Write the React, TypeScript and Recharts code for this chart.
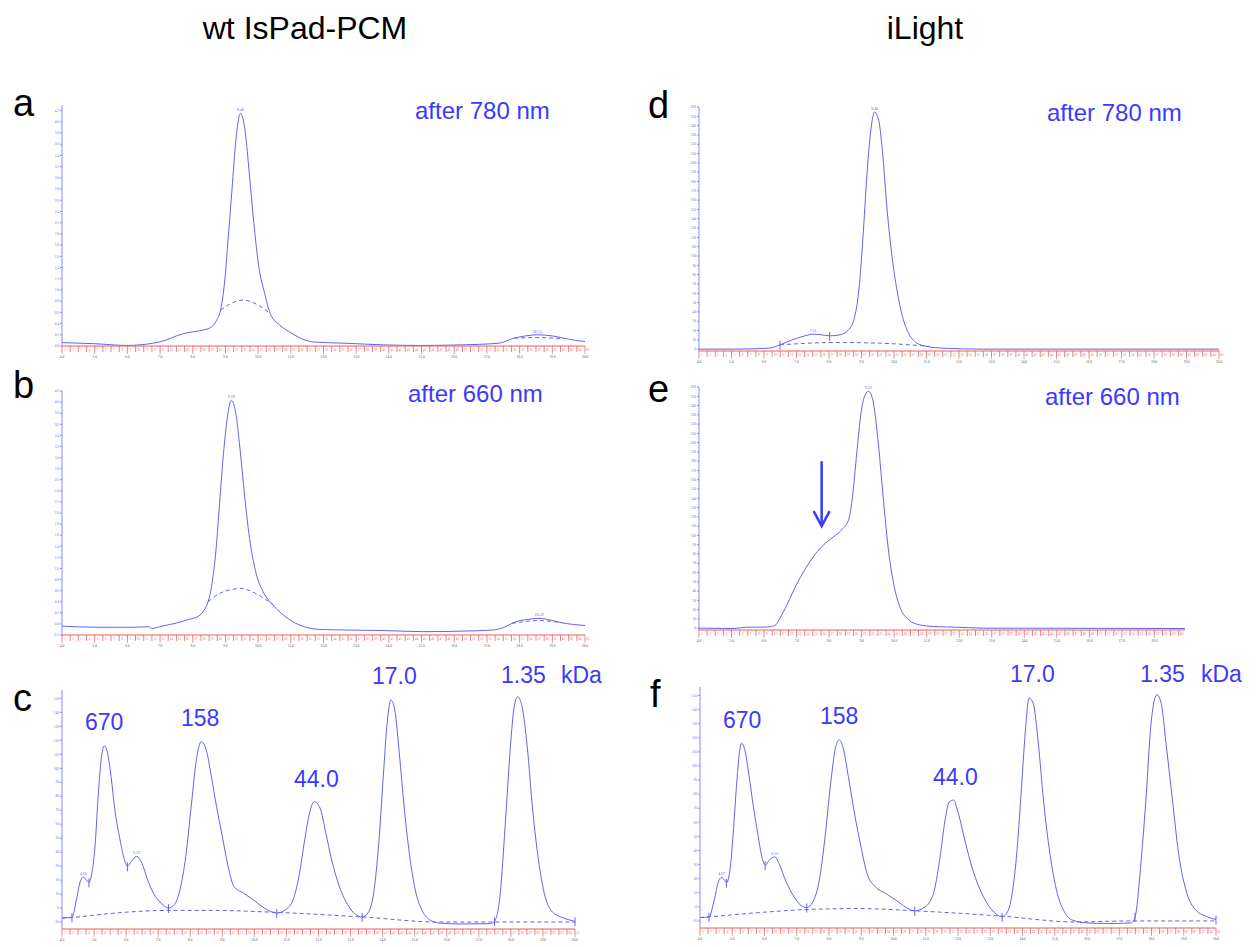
import React from 'react'
import { LineChart, Line, XAxis, YAxis, ReferenceDot, ReferenceLine } from 'recharts'

const FONT = '"Liberation Sans", Arial, sans-serif'
const TRACE = '#6262f0'
const LABEL_BLUE = '#3a3aff'
const FRAC_RED = '#f05a5a'

// elution volume (mL) ticks shared by all panels
const volTicks = [4, 5, 6, 7, 8, 9, 10, 11, 12, 13, 14, 15, 16, 17, 18, 19, 20]

// a: wt IsPad-PCM after 780 nm
const aVol = [4.00, 5.03, 5.97, 6.79, 7.15, 7.50, 7.85, 8.20, 8.55, 8.73, 8.85, 8.97, 9.08, 9.20, 9.32, 9.46, 9.61, 9.73, 9.87, 10.02, 10.20, 10.37, 10.67, 11.02, 11.37, 11.72, 12.66, 13.84, 15.01, 16.19, 17.36, 17.83, 18.18, 18.53, 19.00, 19.35, 19.71, 20.00]
const aAbs = [0.06, 0.04, 0.01, 0.05, 0.10, 0.18, 0.24, 0.27, 0.33, 0.46, 0.64, 1.12, 1.89, 2.79, 3.68, 4.15, 3.80, 3.08, 2.19, 1.42, 0.94, 0.58, 0.37, 0.23, 0.12, 0.07, 0.05, 0.02, 0.01, 0.02, 0.05, 0.14, 0.18, 0.20, 0.18, 0.14, 0.10, 0.08]
const aFitVol = [8.85, 9.14, 9.55, 9.90, 10.37]
const aFitAbs = [0.64, 0.75, 0.82, 0.76, 0.58]
const aFit2Vol = [17.83, 18.53, 19.35]
const aFit2Abs = [0.14, 0.15, 0.13]
const aTicks = [0, 0.2, 0.4, 0.6, 0.8, 1.0, 1.2, 1.4, 1.6, 1.8, 2.0, 2.2, 2.4, 2.6, 2.8, 3.0, 3.2, 3.4, 3.6, 3.8, 4.0, 4.2]
const aPeaks = [9.46, 18.53]

// b: wt IsPad-PCM after 660 nm
const bVol = [4.00, 5.06, 6.24, 6.65, 6.76, 7.06, 7.53, 7.88, 8.18, 8.35, 8.47, 8.59, 8.71, 8.82, 8.94, 9.06, 9.18, 9.32, 9.44, 9.59, 9.76, 9.94, 10.18, 10.41, 10.71, 11.06, 11.41, 11.88, 12.71, 13.88, 15.06, 16.24, 17.18, 17.53, 17.88, 18.24, 18.59, 18.94, 19.29, 19.65, 20.00]
const bAbs = [-0.04, -0.06, -0.06, -0.05, -0.08, -0.04, 0.02, 0.08, 0.14, 0.25, 0.40, 0.73, 1.33, 2.17, 3.07, 3.73, 4.03, 3.79, 3.19, 2.29, 1.45, 0.91, 0.55, 0.37, 0.19, 0.04, -0.05, -0.10, -0.11, -0.12, -0.14, -0.13, -0.11, -0.06, 0.04, 0.08, 0.10, 0.07, 0.02, -0.01, -0.03]
const bFitVol = [8.47, 8.82, 9.18, 9.47, 9.82, 10.18, 10.47]
const bFitAbs = [0.40, 0.55, 0.62, 0.64, 0.58, 0.46, 0.34]
const bFit2Vol = [17.77, 18.59, 19.29]
const bFit2Abs = [0.01, 0.06, 0.02]
const bTicks = [-0.2, 0, 0.2, 0.4, 0.6, 0.8, 1.0, 1.2, 1.4, 1.6, 1.8, 2.0, 2.2, 2.4, 2.6, 2.8, 3.0, 3.2, 3.4, 3.6, 3.8, 4.0, 4.2]
const bPeaks = [9.18, 18.59]

// c: wt IsPad-PCM standards
const cVol = [4.00, 4.31, 4.45, 4.57, 4.66, 4.75, 4.84, 4.93, 5.03, 5.12, 5.22, 5.32, 5.41, 5.53, 5.65, 5.79, 5.95, 6.04, 6.16, 6.33, 6.49, 6.67, 6.85, 7.09, 7.32, 7.50, 7.68, 7.86, 8.04, 8.19, 8.34, 8.50, 8.64, 8.82, 9.00, 9.18, 9.36, 9.66, 9.96, 10.31, 10.70, 10.97, 11.21, 11.39, 11.57, 11.72, 11.87, 12.05, 12.23, 12.41, 12.65, 12.94, 13.36, 13.54, 13.72, 13.88, 14.02, 14.14, 14.26, 14.38, 14.52, 14.68, 14.86, 15.04, 15.22, 15.46, 15.75, 16.41, 17.37, 17.49, 17.67, 17.82, 17.97, 18.09, 18.21, 18.35, 18.51, 18.68, 18.86, 19.04, 19.28, 19.64, 20.00]
const cAbs = [-7.1, -6.7, 6.0, 19.0, 22.1, 20.2, 18.3, 25.0, 44.0, 77.4, 106.0, 116.0, 111.9, 94.0, 70.2, 51.2, 34.5, 29.8, 33.3, 36.9, 32.1, 20.2, 10.7, 3.6, 0, 2.4, 13.1, 36.9, 75.0, 106.0, 119.0, 113.1, 96.4, 72.6, 51.2, 29.8, 15.5, 10.7, 6.0, 0, -3.6, -1.2, 6.0, 22.6, 48.8, 67.9, 76.2, 71.4, 53.6, 34.5, 15.5, 1.2, -6.4, -3.6, 10.7, 46.4, 94.0, 132.1, 148.8, 141.7, 110.7, 70.2, 34.5, 10.7, -1.2, -8.3, -10.7, -11.4, -11.2, -9.5, 10.7, 58.3, 110.7, 141.7, 151.2, 144.0, 115.5, 70.2, 34.5, 10.7, -2.4, -7.1, -9.5]
const cBaseVol = [4.00, 4.31, 5.65, 7.32, 8.64, 10.70, 13.36, 15.75, 17.49, 20.00]
const cBaseAbs = [-7.1, -6.7, -3.6, -1.7, -1.7, -3.1, -6.4, -10.0, -10.0, -10.0]
const cCuts = [4.31, 4.84, 6.04, 7.32, 10.70, 13.36, 17.49, 20.00]
const cPeaks = [4.66, 6.33]

// d: iLight after 780 nm
const dVol = [4.00, 5.09, 6.17, 6.49, 6.87, 7.26, 7.51, 7.77, 8.02, 8.34, 8.60, 8.79, 8.92, 9.04, 9.17, 9.30, 9.40, 9.53, 9.66, 9.78, 9.94, 10.09, 10.26, 10.45, 10.70, 11.02, 11.47, 12.75, 14.02, 20.00]
const dAbs = [0, 0, 1.1, 4.6, 10.0, 14.3, 16.1, 15.4, 14.3, 15.4, 20.7, 35.0, 63.6, 117.1, 188.6, 238.6, 254.6, 245.7, 206.4, 152.9, 99.3, 63.6, 35.0, 17.1, 6.4, 2.9, 1.1, 0, 0, 0]
const dFitVol = [6.49, 8.15, 9.55, 11.09]
const dFitAbs = [4.6, 7.1, 6.4, 2.9]
const dCuts = [6.49, 8.02]
const dPeaks = [7.51, 9.40]

// e: iLight after 660 nm
const eVol = [4.00, 5.09, 5.47, 5.98, 6.23, 6.36, 6.49, 6.68, 6.87, 7.13, 7.38, 7.64, 7.89, 8.15, 8.41, 8.60, 8.72, 8.85, 8.98, 9.11, 9.21, 9.34, 9.49, 9.66, 9.81, 10.00, 10.19, 10.45, 10.77, 11.21, 11.85, 12.75, 18.94]
const eAbs = [0, -0.4, 1.1, 1.1, 1.8, 3.6, 10.8, 23.4, 37.8, 55.8, 70.1, 82.7, 91.7, 98.9, 106.8, 116.9, 142.1, 188.8, 232.0, 251.8, 255.4, 246.4, 206.8, 142.1, 88.1, 45.0, 21.6, 9.0, 3.6, 1.8, 1.1, 0, -0.4]
const ePeaks = [9.21]
const eArrowVol = 7.77
const eArrowAbs = [180, 110]

const iLightTicks = [0, 10, 20, 30, 40, 50, 60, 70, 80, 90, 100, 110, 120, 130, 140, 150, 160, 170, 180, 190, 200, 210, 220, 230, 240, 250, 260]

// f: iLight standards
const fVol = [4.00, 4.28, 4.44, 4.57, 4.67, 4.76, 4.82, 4.93, 5.03, 5.13, 5.22, 5.29, 5.39, 5.51, 5.64, 5.79, 5.93, 6.02, 6.15, 6.32, 6.47, 6.67, 6.92, 7.12, 7.31, 7.50, 7.70, 7.89, 8.04, 8.21, 8.32, 8.44, 8.60, 8.79, 8.99, 9.18, 9.44, 9.76, 10.08, 10.40, 10.66, 10.98, 11.24, 11.43, 11.60, 11.73, 11.86, 12.01, 12.21, 12.46, 12.79, 13.11, 13.37, 13.56, 13.71, 13.84, 13.97, 14.10, 14.20, 14.33, 14.49, 14.65, 14.85, 15.08, 15.30, 15.56, 16.01, 16.65, 17.36, 17.49, 17.68, 17.84, 17.96, 18.09, 18.17, 18.30, 18.45, 18.65, 18.84, 19.10, 19.36, 19.74, 20.00]
const fAbs = [-7.6, -7.1, 4.7, 17.8, 20.9, 19.0, 17.1, 26.1, 52.1, 85.3, 109.0, 116.1, 111.4, 94.8, 73.5, 52.1, 34.4, 29.6, 33.2, 35.5, 29.6, 17.8, 7.1, 1.2, -0.5, 3.6, 19.0, 52.1, 85.3, 113.7, 118.5, 112.6, 92.4, 66.4, 42.7, 23.7, 14.2, 9.5, 4.7, -0.5, -2.8, 0, 9.5, 33.2, 61.6, 74.6, 75.8, 66.4, 47.4, 26.1, 7.1, -3.6, -7.1, -2.4, 14.2, 42.7, 85.3, 128.0, 148.1, 144.5, 116.1, 75.8, 37.9, 9.5, -3.6, -9.5, -11.4, -11.8, -11.4, -7.1, 33.2, 80.6, 123.2, 146.9, 150.5, 144.5, 116.1, 75.8, 37.9, 9.5, -1.9, -7.1, -9.0]
const fBaseVol = [4.00, 4.28, 5.70, 7.31, 8.92, 10.66, 13.37, 15.62, 17.36, 20.00]
const fBaseAbs = [-7.6, -7.1, -4.3, -1.9, -1.2, -2.8, -6.6, -10.7, -10.0, -10.0]
const fCuts = [4.28, 4.82, 6.02, 7.31, 10.66, 13.37, 17.49, 20.00]
const fPeaks = [4.67, 6.32]

const stdTicks = [-10, 0, 10, 20, 30, 40, 50, 60, 70, 80, 90, 100, 110, 120, 130, 140, 150]

// standard masses (kDa)
const mwLabels = ['670', '158', '44.0', '17.0', '1.35']

type Series = { vol: number[]; abs: number[] }

const toRows = (vol: number[], abs: number[]) => vol.map((v, i) => ({ vol: v, abs: abs[i] }))

const YW = 13
const MT = 3
const MR = 7
const XH = 16

// fraction band (red) right under the plot, elution volume labels below it
const FracTick = (props: any) => {
  const { x, y, payload } = props
  const v: number = payload.value
  const n = Math.round((v - 4) / 0.25) + 1
  const labelled = volTicks.some((t) => Math.abs(t - v) < 1e-6)
  return (
    <g>
      <line x1={x} x2={x} y1={y} y2={y + 6} stroke={FRAC_RED} strokeWidth={0.8} />
      <text x={x + 3} y={y + 4.5} fontSize={3} fill={FRAC_RED} textAnchor="middle">{n}</text>
      {labelled && (
        <g>
          <line x1={x} x2={x} y1={y + 6} y2={y + 8} stroke="#888" strokeWidth={0.6} />
          <text x={x} y={y + 12} fontSize={3.5} fill="#555" textAnchor="middle">{v.toFixed(1)}</text>
        </g>
      )}
    </g>
  )
}

interface PanelProps {
  left: number
  top: number
  plotW: number
  plotH: number
  xMax: number
  yDomain: [number, number]
  yTicks: number[]
  digits: number
  trace: Series
  fits: Series[]
  peaks: number[]
  cuts?: number[]
  children?: React.ReactNode
}

const Panel = ({ left, top, plotW, plotH, xMax, yDomain, yTicks, digits, trace, fits, peaks, cuts = [], children }: PanelProps) => {
  const fracTicks = Array.from({ length: Math.floor((xMax - 4) / 0.25) + 1 }, (_, i) => 4 + i * 0.25)
  const absAt = (v: number) => trace.abs[trace.vol.indexOf(v)]
  return (
    <div style={{ position: 'absolute', left: left - YW, top: top - MT }}>
      <LineChart
        width={plotW + YW + MR}
        height={plotH + MT + XH}
        margin={{ top: MT, right: MR, bottom: 0, left: 0 }}
      >
        <XAxis
          type="number"
          dataKey="vol"
          domain={[4, xMax]}
          ticks={fracTicks}
          allowDataOverflow
          height={XH}
          stroke={FRAC_RED}
          tickLine={false}
          tickSize={0}
          tickMargin={0}
          interval={0}
          tick={<FracTick />}
        />
        <YAxis
          type="number"
          domain={yDomain}
          ticks={yTicks}
          allowDataOverflow
          width={YW}
          stroke="#8a8af2"
          tickSize={2}
          tickMargin={1}
          interval={0}
          tick={{ fontSize: 3.5, fill: '#6b6bf0' }}
          tickFormatter={(v: number) => v.toFixed(digits)}
        />
        {fits.map((s, i) => (
          <Line
            key={i}
            data={toRows(s.vol, s.abs)}
            dataKey="abs"
            type="monotone"
            stroke={TRACE}
            strokeWidth={1}
            strokeDasharray="4 3"
            dot={false}
            isAnimationActive={false}
          />
        ))}
        <Line
          data={toRows(trace.vol, trace.abs)}
          dataKey="abs"
          type="monotone"
          stroke={TRACE}
          strokeWidth={1}
          dot={false}
          isAnimationActive={false}
        />
        {cuts.map((c) => (
          <ReferenceDot
            key={'c' + c}
            x={c}
            y={absAt(c)}
            r={4}
            shape={(p: any) => <line x1={p.cx} x2={p.cx} y1={p.cy - 4} y2={p.cy + 5} stroke={TRACE} strokeWidth={1} />}
          />
        ))}
        {peaks.map((p) => (
          <ReferenceDot
            key={'p' + p}
            x={p}
            y={absAt(p)}
            r={0}
            fill="none"
            stroke="none"
            label={{ value: p.toFixed(2), position: 'top', fontSize: 4, fill: TRACE, offset: 2 }}
          />
        ))}
        {children}
      </LineChart>
    </div>
  )
}

const T = ({ x, y, size, fill = '#000', children, anchor = 'start' }: { x: number; y: number; size: number; fill?: string; children: React.ReactNode; anchor?: 'start' | 'middle' }) => (
  <text x={x} y={y} fontSize={size} fill={fill} fontFamily={FONT} textAnchor={anchor}>
    {children}
  </text>
)

const App = () => {
  const cLabelX = [85, 181, 294, 372, 501]
  const cLabelY = [730, 726, 787, 684, 683]
  const fLabelX = [723, 820, 933, 1010, 1140]
  const fLabelY = [728, 724, 785, 682, 682]
  return (
    <div style={{ position: 'absolute', left: 0, top: 0, width: 1258, height: 947, background: '#fff', overflow: 'hidden' }}>
      <Panel left={62} top={105} plotW={523} plotH={241} xMax={20} yDomain={[0, 4.3]} yTicks={aTicks} digits={1}
        trace={{ vol: aVol, abs: aAbs }} fits={[{ vol: aFitVol, abs: aFitAbs }, { vol: aFit2Vol, abs: aFit2Abs }]} peaks={aPeaks} />
      <Panel left={62} top={391} plotW={523} plotH={244} xMax={20} yDomain={[-0.2, 4.2]} yTicks={bTicks} digits={1}
        trace={{ vol: bVol, abs: bAbs }} fits={[{ vol: bFitVol, abs: bFitAbs }, { vol: bFit2Vol, abs: bFit2Abs }]} peaks={bPeaks} />
      <Panel left={62} top={690} plotW={513} plotH={239} xMax={20} yDomain={[-15, 156]} yTicks={stdTicks} digits={0}
        trace={{ vol: cVol, abs: cAbs }} fits={[{ vol: cBaseVol, abs: cBaseAbs }]} peaks={cPeaks} cuts={cCuts} />
      <Panel left={699} top={107} plotW={520} plotH={244} xMax={20} yDomain={[-2, 260]} yTicks={iLightTicks} digits={0}
        trace={{ vol: dVol, abs: dAbs }} fits={[{ vol: dFitVol, abs: dFitAbs }]} peaks={dPeaks} cuts={dCuts} />
      <Panel left={699} top={387} plotW={486} plotH={243} xMax={18.94} yDomain={[-2, 260]} yTicks={iLightTicks} digits={0}
        trace={{ vol: eVol, abs: eAbs }} fits={[]} peaks={ePeaks}>
        <ReferenceLine
          segment={[{ x: eArrowVol, y: eArrowAbs[0] }, { x: eArrowVol, y: eArrowAbs[1] + 2 }]}
          stroke={LABEL_BLUE}
          strokeWidth={2.5}
        />
        <ReferenceDot
          x={eArrowVol}
          y={eArrowAbs[1]}
          r={8}
          shape={(p: any) => (
            <path d={`M${p.cx - 8},${p.cy - 15} L${p.cx},${p.cy} L${p.cx + 8},${p.cy - 15}`} fill="none" stroke={LABEL_BLUE} strokeWidth={2.5} />
          )}
        />
      </Panel>
      <Panel left={700} top={687} plotW={516} plotH={241} xMax={20} yDomain={[-15, 156]} yTicks={stdTicks} digits={0}
        trace={{ vol: fVol, abs: fAbs }} fits={[{ vol: fBaseVol, abs: fBaseAbs }]} peaks={fPeaks} cuts={fCuts} />

      <svg width={1258} height={947} style={{ position: 'absolute', left: 0, top: 0, pointerEvents: 'none' }}>
        <T x={305} y={39} size={32} anchor="middle">wt IsPad-PCM</T>
        <T x={925} y={39} size={32} anchor="middle">iLight</T>

        <T x={13} y={116} size={38}>a</T>
        <T x={13} y={398} size={38}>b</T>
        <T x={13} y={711} size={38}>c</T>
        <T x={648} y={118} size={38}>d</T>
        <T x={648} y={402} size={38}>e</T>
        <T x={650} y={707} size={38}>f</T>

        <T x={415} y={119} size={24} fill={LABEL_BLUE}>after 780 nm</T>
        <T x={408} y={402} size={24} fill={LABEL_BLUE}>after 660 nm</T>
        <T x={1047} y={121} size={24} fill={LABEL_BLUE}>after 780 nm</T>
        <T x={1045} y={405} size={24} fill={LABEL_BLUE}>after 660 nm</T>

        {mwLabels.map((m, i) => (
          <T key={'c' + m} x={cLabelX[i]} y={cLabelY[i]} size={23} fill={LABEL_BLUE}>{m}</T>
        ))}
        <T x={561} y={683} size={23} fill={LABEL_BLUE}>kDa</T>
        {mwLabels.map((m, i) => (
          <T key={'f' + m} x={fLabelX[i]} y={fLabelY[i]} size={23} fill={LABEL_BLUE}>{m}</T>
        ))}
        <T x={1201} y={682} size={23} fill={LABEL_BLUE}>kDa</T>
      </svg>
    </div>
  )
}

export default App
